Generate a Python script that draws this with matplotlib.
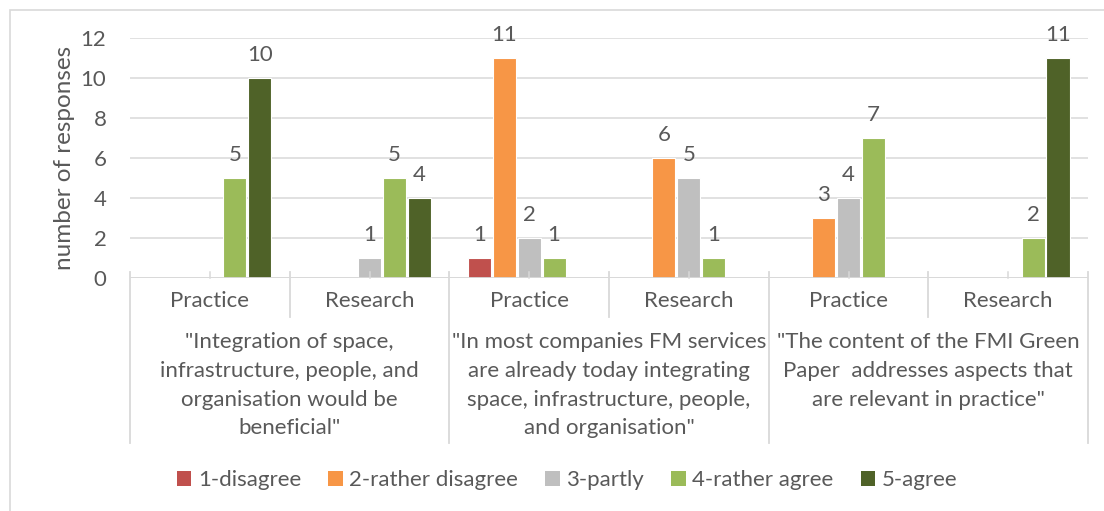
import matplotlib
matplotlib.use("Agg")
import matplotlib.pyplot as plt
import matplotlib.transforms as mtransforms
from matplotlib.patches import Patch, Rectangle
import numpy as np

# --- data ---
sub_labels = ["Practice", "Research", "Practice", "Research", "Practice", "Research"]
statements = [
    '"Integration of space,\ninfrastructure, people, and\norganisation would be\nbeneficial"',
    '"In most companies FM services\nare already today integrating\nspace, infrastructure, people,\nand organisation"',
    '"The content of the FMI Green\nPaper  addresses aspects that\nare relevant in practice"',
]
series_names = ["1-disagree", "2-rather disagree", "3-partly", "4-rather agree", "5-agree"]
disagree = [0, 0, 1, 0, 0, 0]
rather_disagree = [0, 0, 11, 6, 3, 0]
partly = [0, 1, 2, 5, 4, 0]
rather_agree = [5, 5, 1, 1, 7, 2]
agree = [10, 4, 0, 0, 0, 11]

# --- style ---
COLORS = ["#C0504D", "#F79646", "#BFBFBF", "#9BBB59", "#4F6228"]
TEXT = "#595959"
GRID = "#D9D9D9"
FS = 16

plt.rcParams["font.family"] = ["Lato", "DejaVu Sans"]

W, H = 1104, 511
fig = plt.figure(figsize=(W / 100, H / 100), dpi=100)
ax = fig.add_axes([130 / W, 1 - 278 / H, 958 / W, 240 / H])

# chart border (partly cropped in the original)
fig.patches.append(Rectangle((10 / W, -0.1), 1.2, 1 - 10 / H + 0.1,
                             transform=fig.transFigure, fill=False,
                             edgecolor=GRID, linewidth=1.2))

x = np.arange(len(sub_labels))
all_series = [disagree, rather_disagree, partly, rather_agree, agree]
slot = 25 / 160
bw = 0.145
for i, (vals, name, col) in enumerate(zip(all_series, series_names, COLORS)):
    xs = x + (i - 2) * slot
    ax.bar(xs, vals, width=bw, color=col, edgecolor="white", linewidth=0.8,
           label=name, zorder=2)
    for xi, v in zip(xs, vals):
        if v > 0:
            ax.annotate(str(v), (xi, v), xytext=(0, 12.5), textcoords="offset points",
                        ha="center", va="baseline", fontsize=FS, color=TEXT)

ax.set_xlim(-0.5, 5.5)
ax.set_ylim(0, 12)
ax.set_yticks(range(0, 13, 2))
ax.yaxis.grid(True, color=GRID, linewidth=1.1, zorder=0)
ax.set_axisbelow(True)
ax.tick_params(axis="y", length=0, pad=17, labelsize=FS, labelcolor=TEXT)
ax.set_xticks([])
for s in ax.spines.values():
    s.set_visible(False)
ax.axhline(0, color=GRID, linewidth=1.3, zorder=3)
ax.set_ylabel("number of responses", fontsize=17.5, color=TEXT, labelpad=4)

# multi-level category axis
trans = mtransforms.blended_transform_factory(ax.transData, ax.transAxes)
def frac(ypix):
    return (278 - ypix) / 240

for xc in x:
    ax.plot([xc, xc], [frac(272), 0], transform=trans, color=GRID, lw=1.1,
            clip_on=False, zorder=4)
    ax.text(xc, frac(301), sub_labels[xc], transform=trans, ha="center", va="center",
            fontsize=FS, color=TEXT)
for b in [0.5, 2.5, 4.5]:
    ax.plot([b, b], [frac(272), frac(317)], transform=trans, color=GRID, lw=1.3,
            clip_on=False, zorder=4)
for b in [-0.5, 1.5, 3.5, 5.5]:
    ax.plot([b, b], [frac(272), frac(443)], transform=trans, color=GRID, lw=1.3,
            clip_on=False, zorder=4)
for g, label in enumerate(statements):
    ax.text(2 * g + 0.5, frac(332), label, transform=trans, ha="center", va="top",
            fontsize=FS, color=TEXT, linespacing=1.55)

handles = [Patch(facecolor=c, edgecolor="none") for c in COLORS]
fig.legend(handles, series_names, loc="center", bbox_to_anchor=(567 / W, 1 - 480 / H),
           ncol=5, frameon=False, fontsize=FS, labelcolor=TEXT,
           handlelength=0.65, handleheight=0.65, handletextpad=0.3,
           columnspacing=1.22, borderaxespad=0, borderpad=0)

fig.savefig("out.png", dpi=100)
